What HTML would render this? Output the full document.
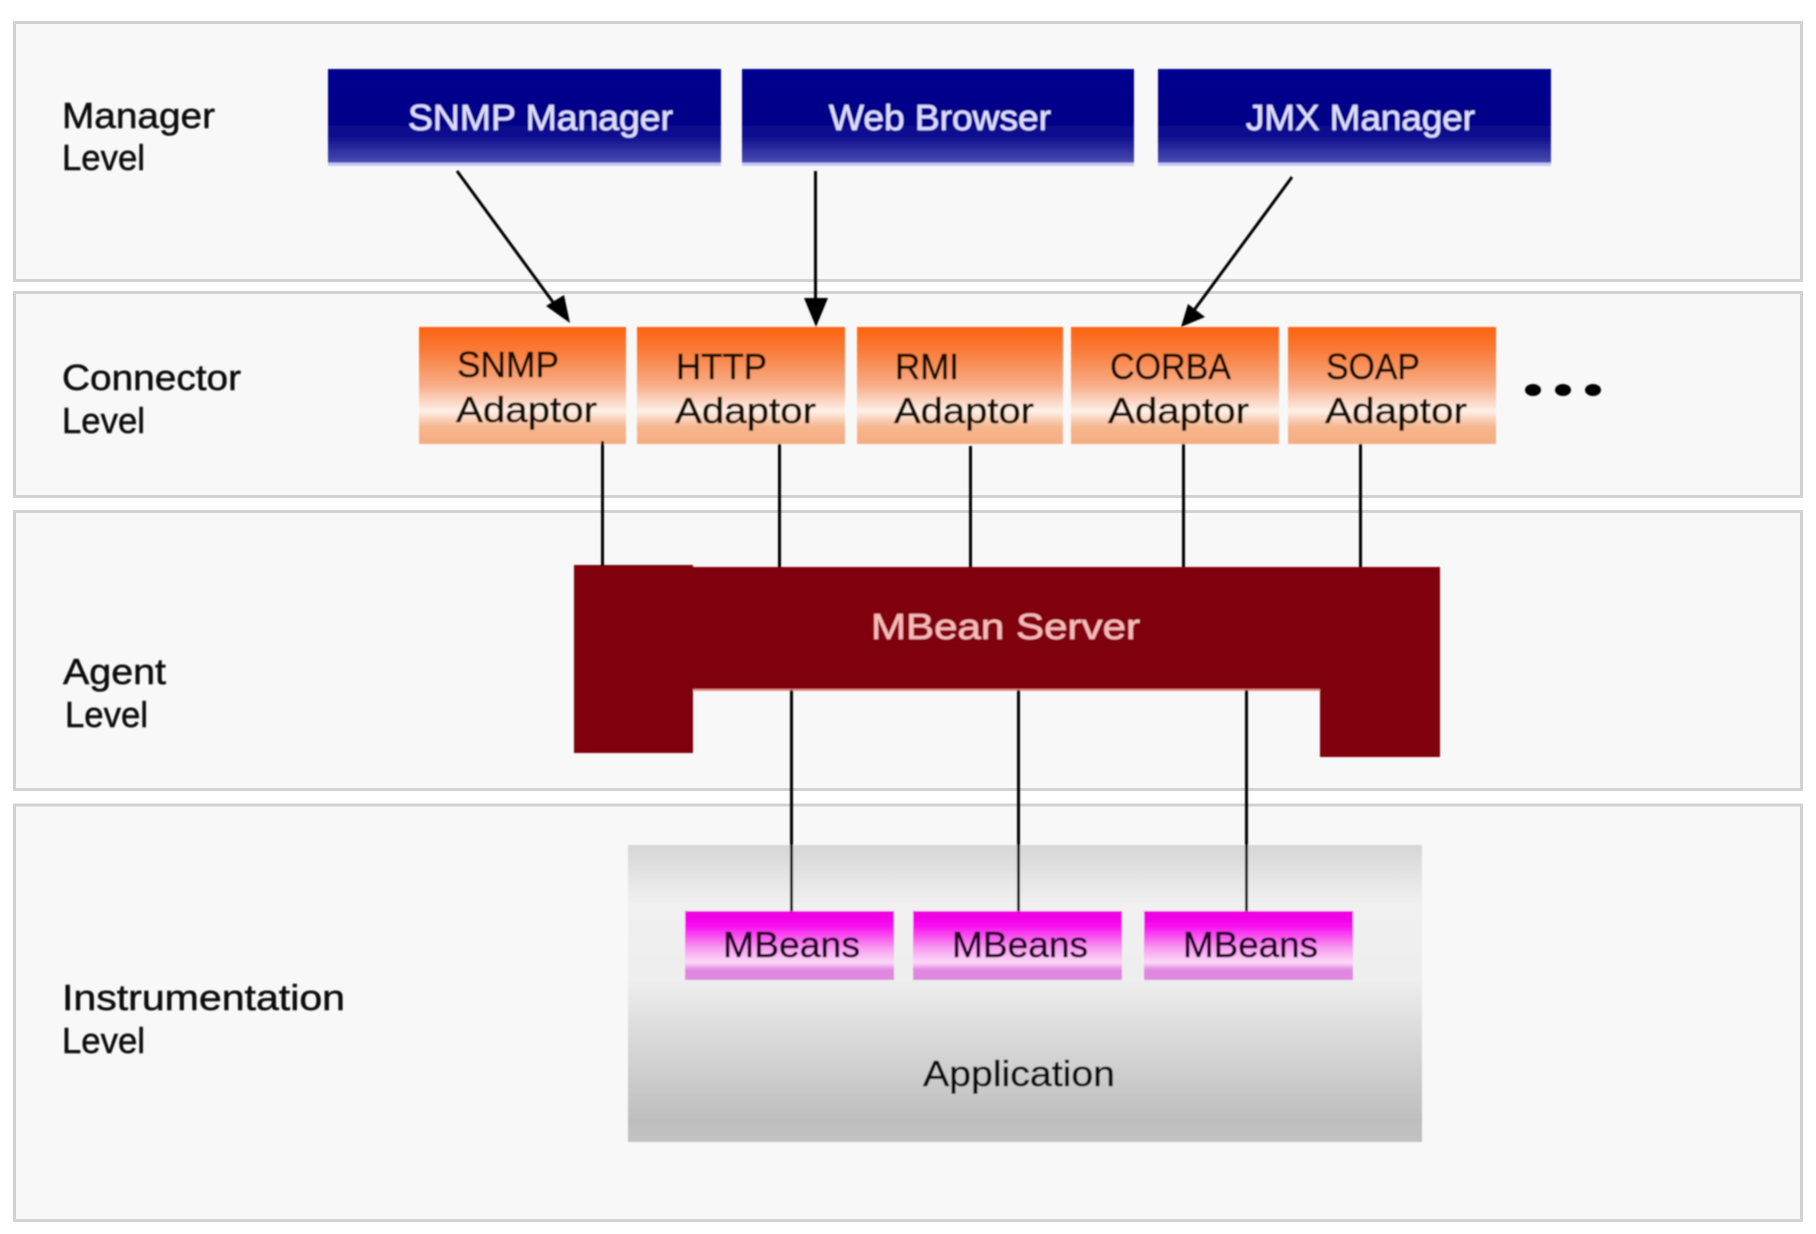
<!DOCTYPE html>
<html><head><meta charset="utf-8"><style>
html,body{margin:0;padding:0;background:#fff;width:1816px;height:1234px;overflow:hidden}
svg{display:block}
text{font-family:"Liberation Sans",sans-serif;font-size:36px;stroke-width:.5px;paint-order:stroke}
</style></head><body>
<svg width="1816" height="1234" viewBox="0 0 1816 1234" xmlns="http://www.w3.org/2000/svg">
<defs>
<linearGradient id="blue" x1="0" y1="0" x2="0" y2="1">
<stop offset="0" stop-color="#000090"/><stop offset=".5" stop-color="#000088"/><stop offset=".7" stop-color="#101090"/><stop offset=".96" stop-color="#4a4ab0"/><stop offset=".97" stop-color="#c8c8f8"/><stop offset="1" stop-color="#c8c8f8"/>
</linearGradient>
<linearGradient id="org" x1="0" y1="0" x2="0" y2="1">
<stop offset="0" stop-color="#fd6210"/><stop offset=".2" stop-color="#f97b38"/><stop offset=".5" stop-color="#f8ad88"/><stop offset=".72" stop-color="#fdf0e8"/><stop offset=".85" stop-color="#f6b68e"/><stop offset="1" stop-color="#f3ac80"/>
</linearGradient>
<linearGradient id="mag" x1="0" y1="0" x2="0" y2="1">
<stop offset="0" stop-color="#ec00dc"/><stop offset=".2" stop-color="#f808f0"/><stop offset=".55" stop-color="#f8a0f0"/><stop offset=".75" stop-color="#fbd8f8"/><stop offset=".85" stop-color="#e088e0"/><stop offset="1" stop-color="#e088e0"/>
</linearGradient>
<linearGradient id="app" x1="0" y1="0" x2="0" y2="1">
<stop offset="0" stop-color="#d6d6d6"/><stop offset=".2" stop-color="#f0f0f0"/><stop offset=".45" stop-color="#eeeeee"/><stop offset=".7" stop-color="#d4d4d4"/><stop offset=".93" stop-color="#bebebe"/><stop offset="1" stop-color="#c2c2c2"/>
</linearGradient>
<filter id="b" x="-5%" y="-5%" width="110%" height="110%"><feGaussianBlur stdDeviation="0.7"/></filter>
</defs>
<g fill="#f8f8f8" stroke="#d2d2d2" stroke-width="3">
<rect x="14.5" y="22.500" width="1787" height="258"/>
<rect x="14.500" y="292.500" width="1787" height="204"/>
<rect x="14.500" y="511.500" width="1787" height="278"/>
<rect x="14.500" y="805" width="1787" height="415.500"/>
</g>
<g filter="url(#b)">
<rect x="628" y="845" width="794" height="297" fill="url(#app)"/>
<g fill="url(#blue)">
<rect x="328" y="69" width="393" height="97"/>
<rect x="742" y="69" width="392" height="97"/>
<rect x="1158" y="69" width="393" height="97"/>
</g>
<g fill="url(#org)">
<rect x="419" y="327" width="207" height="117"/>
<rect x="637" y="327" width="208" height="117"/>
<rect x="857" y="327" width="206" height="117"/>
<rect x="1071" y="327" width="208" height="117"/>
<rect x="1288" y="327" width="208" height="117"/>
</g>
<path d="M574 565H693V567H1440V757H1320V690H693V753H574Z" fill="#800008"/>
<rect x="693" y="689" width="627" height="2" fill="#e89090"/>
<g fill="url(#mag)">
<rect x="685" y="911" width="209" height="69"/>
<rect x="913" y="911" width="209" height="69"/>
<rect x="1144" y="911" width="209" height="69"/>
</g>
<g stroke="#000" stroke-width="3" fill="none">
<path d="M602.500 441V566M779.500 444V567M970.500 446V567M1183.500 444V567M1360.500 444V567"/>
<path d="M791.500 690V911M1018.500 690V911M1246.500 690V911"/>
<path d="M457 171L558 309M815.500 171V310M1292 177L1192 313"/>
</g>
<g fill="#000">
<path d="M570 323L546 306L564 295Z"/>
<path d="M816 327L804 298H828Z"/>
<path d="M1181 327L1188 304L1205 317Z"/>
<ellipse cx="1533" cy="390" rx="8" ry="6"/><ellipse cx="1563" cy="390" rx="8" ry="6"/><ellipse cx="1593" cy="390" rx="8" ry="6"/>
</g>
<g fill="#0a0a0a" stroke="#0a0a0a">
<text x="62" y="128" textLength="153" lengthAdjust="spacingAndGlyphs">Manager</text>
<text x="62" y="170" textLength="83" lengthAdjust="spacingAndGlyphs">Level</text>
<text x="62" y="390" textLength="179" lengthAdjust="spacingAndGlyphs">Connector</text>
<text x="62" y="433" textLength="83" lengthAdjust="spacingAndGlyphs">Level</text>
<text x="63" y="684" textLength="103" lengthAdjust="spacingAndGlyphs">Agent</text>
<text x="65" y="727" textLength="83" lengthAdjust="spacingAndGlyphs">Level</text>
<text x="62" y="1010" textLength="283" lengthAdjust="spacingAndGlyphs">Instrumentation</text>
<text x="62" y="1053" textLength="83" lengthAdjust="spacingAndGlyphs">Level</text>
<text x="923" y="1086" textLength="192" lengthAdjust="spacingAndGlyphs">Application</text>
</g>
<g fill="#dcdcff" stroke="#dcdcff">
<text x="408" y="130" textLength="265" lengthAdjust="spacingAndGlyphs">SNMP Manager</text>
<text x="829" y="130" textLength="222" lengthAdjust="spacingAndGlyphs">Web Browser</text>
<text x="1246" y="130" textLength="229" lengthAdjust="spacingAndGlyphs">JMX Manager</text>
</g>
<g fill="#180804" stroke="#180804">
<text x="457" y="377" textLength="102" lengthAdjust="spacingAndGlyphs">SNMP</text>
<text x="456" y="422" textLength="141" lengthAdjust="spacingAndGlyphs">Adaptor</text>
<text x="676" y="379" textLength="91" lengthAdjust="spacingAndGlyphs">HTTP</text>
<text x="675" y="423" textLength="141" lengthAdjust="spacingAndGlyphs">Adaptor</text>
<text x="895" y="379" textLength="64" lengthAdjust="spacingAndGlyphs">RMI</text>
<text x="894" y="423" textLength="140" lengthAdjust="spacingAndGlyphs">Adaptor</text>
<text x="1110" y="379" textLength="121" lengthAdjust="spacingAndGlyphs">CORBA</text>
<text x="1108" y="423" textLength="141" lengthAdjust="spacingAndGlyphs">Adaptor</text>
<text x="1326" y="379" textLength="94" lengthAdjust="spacingAndGlyphs">SOAP</text>
<text x="1325" y="423" textLength="142" lengthAdjust="spacingAndGlyphs">Adaptor</text>
</g>
<text x="871" y="639" textLength="269" lengthAdjust="spacingAndGlyphs" fill="#f8b8b8" stroke="#f8b8b8">MBean Server</text>
<g fill="#200024" stroke="#200024">
<text x="723" y="957" textLength="137" lengthAdjust="spacingAndGlyphs">MBeans</text>
<text x="952" y="957" textLength="136" lengthAdjust="spacingAndGlyphs">MBeans</text>
<text x="1183" y="957" textLength="135" lengthAdjust="spacingAndGlyphs">MBeans</text>
</g>
</g>
</svg>
</body></html>
